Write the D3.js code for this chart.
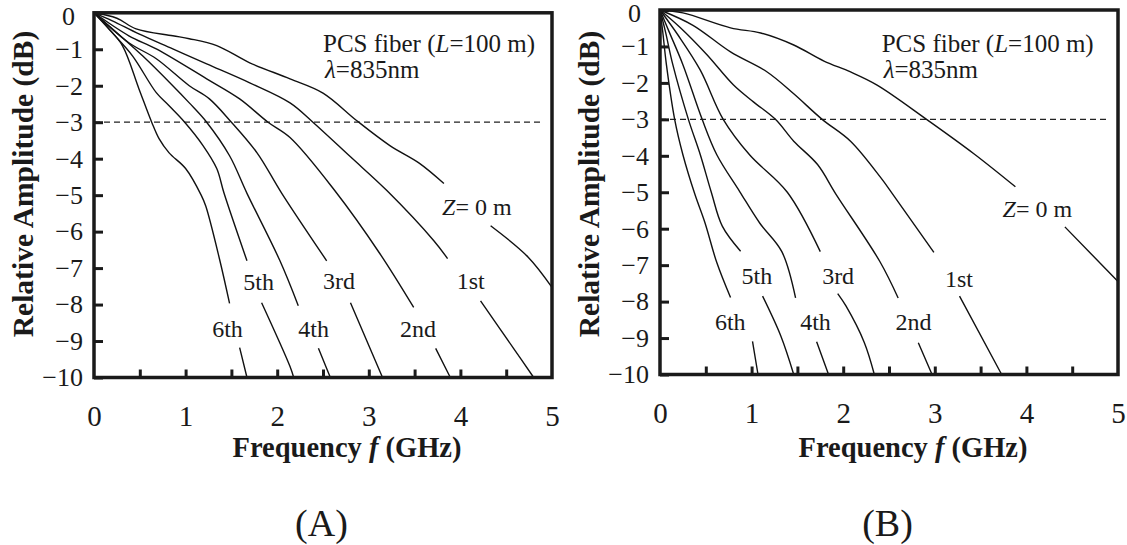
<!DOCTYPE html>
<html><head><meta charset="utf-8">
<script src="https://cdn.jsdelivr.net/npm/d3@7"></script>
<style>
body{margin:0;background:#fff}
svg text{font-family:'Liberation Serif','DejaVu Serif',serif !important;fill:#1a1a1a}
</style></head><body>
<svg id="chart" width="1127" height="545"></svg>
<script>
// ---------------- data ----------------
const xLabelTicks = [0, 1, 2, 3, 4, 5];
const xMinorTicks = [0.5, 1, 1.5, 2, 2.5, 3, 3.5, 4, 4.5];
const yTicks = [0, -1, -2, -3, -4, -5, -6, -7, -8, -9, -10];
const threshold = -3;
const curveNames = ["Z= 0 m", "1st", "2nd", "3rd", "4th", "5th", "6th"];

// Panel A (frequency GHz, relative amplitude dB); null = gap for label
const A_Z0  = [[0,0],[0.25,-0.15],[0.46,-0.44],[0.86,-0.63],[1.04,-0.71],[1.34,-0.9],[1.70,-1.37],[2.14,-1.81],[2.5,-2.2],[2.87,-2.96],[3.23,-3.64],[3.55,-4.12],[3.82,-4.68],[4.0,null],[4.33,-5.84],[4.74,-6.7],[5.0,-7.53]];
const A_1st = [[0,0],[0.2,-0.22],[0.49,-0.58],[0.86,-0.99],[1.23,-1.4],[1.70,-1.92],[2.14,-2.47],[2.39,-3.0],[2.8,-3.95],[3.2,-4.88],[3.71,-6.25],[3.86,-6.74],[4.0,null],[4.22,-7.9],[4.58,-9.2],[4.8,-10]];
const A_2nd = [[0,0],[0.38,-0.63],[0.68,-0.99],[1.23,-1.81],[1.59,-2.36],[1.90,-3.0],[2.14,-3.42],[2.63,-4.88],[3.12,-6.6],[3.49,-8.08],[3.6,null],[3.73,-9.2],[3.89,-10]];
const A_3rd = [[0,0],[0.38,-0.82],[0.68,-1.26],[1.04,-2.0],[1.26,-2.36],[1.50,-3.0],[1.78,-3.84],[2.05,-4.95],[2.54,-6.8],[2.6,null],[2.8,-7.95],[3.15,-10]];
const A_4th = [[0,0],[0.25,-0.55],[0.53,-1.18],[0.86,-2.0],[1.04,-2.47],[1.23,-3.0],[1.48,-3.92],[1.67,-4.95],[2.03,-6.8],[2.23,-8.03],[2.3,null],[2.45,-9.2],[2.58,-10]];
const A_5th = [[0,0],[0.2,-0.55],[0.42,-1.18],[0.68,-2.19],[0.82,-2.55],[0.99,-3.0],[1.19,-3.64],[1.34,-4.27],[1.42,-4.95],[1.67,-6.8],[1.75,null],[1.83,-7.95],[2.14,-9.7],[2.18,-10]];
const A_6th = [[0,0],[0.15,-0.4],[0.31,-0.9],[0.49,-2.08],[0.63,-3.0],[0.71,-3.45],[0.82,-3.84],[1.0,-4.27],[1.17,-5.0],[1.22,-5.3],[1.37,-6.75],[1.48,-7.97],[1.5,null],[1.59,-9.18],[1.67,-10]];

// Panel B
const B_Z0  = [[0,0],[0.25,-0.08],[0.77,-0.49],[1.1,-0.63],[1.46,-0.96],[1.79,-1.4],[2.08,-1.7],[2.37,-2.06],[2.91,-3.0],[3.43,-3.95],[3.88,-4.85],[4.1,null],[4.42,-5.95],[5.0,-7.45]];
const B_1st = [[0,0],[0.36,-0.42],[0.77,-1.15],[1.17,-1.7],[1.46,-2.3],[1.77,-3.0],[2.08,-3.6],[2.41,-4.6],[2.54,-5.05],[2.99,-6.65],[3.1,null],[3.27,-7.85],[3.73,-10]];
const B_2nd = [[0,0],[0.22,-0.48],[0.51,-1.22],[0.8,-2.05],[1.02,-2.52],[1.26,-3.0],[1.46,-3.6],[1.72,-4.24],[1.92,-5.05],[2.4,-6.9],[2.6,-7.9],[2.7,null],[2.82,-9.13],[2.97,-10]];
const B_3rd = [[0,0],[0.2,-0.7],[0.44,-1.65],[0.69,-3.0],[0.98,-3.98],[1.39,-5.0],[1.75,-6.63],[1.85,null],[1.94,-7.78],[2.03,-8.12],[2.23,-9.12],[2.34,-10]];
const B_4th = [[0,0],[0.1,-0.6],[0.25,-1.5],[0.46,-3.0],[0.62,-3.97],[0.87,-4.98],[1.09,-5.85],[1.33,-6.63],[1.48,-7.9],[1.6,null],[1.71,-9.1],[1.84,-10]];
const B_5th = [[0,0],[0.06,-0.6],[0.14,-1.5],[0.31,-3.0],[0.44,-3.97],[0.56,-5.0],[0.68,-5.93],[0.88,-6.62],[1.0,null],[1.12,-7.85],[1.32,-8.95],[1.46,-10]];
const B_6th = [[0,0],[0.03,-0.6],[0.07,-1.5],[0.16,-3.0],[0.25,-3.97],[0.38,-5.05],[0.49,-5.83],[0.62,-6.93],[0.77,-7.89],[0.9,null],[1.01,-9.09],[1.07,-10]];

// label anchors (frequency, dB) for curve names, same order as curveNames
const A_labelAt = [[3.80,-5.54],[3.96,-7.57],[3.34,-8.89],[2.50,-7.57],[2.23,-8.89],[1.63,-7.60],[1.29,-8.89]];
const B_labelAt = [[3.74,-5.67],[3.11,-7.60],[2.57,-8.78],[1.77,-7.52],[1.53,-8.78],[0.89,-7.52],[0.60,-8.78]];

// ---------------- drawing ----------------
const svg = d3.select("#chart");
const INK = "#1a1a1a";
const FONT = "'Liberation Serif','DejaVu Serif',serif";

function drawPanel(cfg) {
  const x = d3.scaleLinear().domain([0, 5]).range(cfg.xr);
  const y = d3.scaleLinear().domain([0, -10]).range(cfg.yr);
  const g = svg.append("g");

  g.append("line")
    .attr("x1", x(0)).attr("x2", x(4.9))
    .attr("y1", y(threshold)).attr("y2", y(threshold))
    .attr("stroke", "#222").attr("stroke-width", 1.2)
    .attr("stroke-dasharray", "6,4");

  const line = d3.line()
    .defined(d => d[1] !== null)
    .x(d => x(d[0])).y(d => y(d[1]))
    .curve(d3.curveCatmullRom.alpha(0.5));
  cfg.curves.forEach(c => {
    g.append("path").attr("d", line(c))
      .attr("fill", "none").attr("stroke", "#111").attr("stroke-width", 1.4);
  });

  const ya = g.append("g").attr("transform", `translate(${x(0)},0)`)
    .call(d3.axisLeft(y).tickValues(yTicks).tickSize(-9).tickPadding(11).tickFormat(d3.format("d")));
  ya.attr("font-family", FONT);
  ya.select(".domain").remove();
  ya.selectAll(".tick line").attr("stroke", INK).attr("stroke-width", 3);
  ya.selectAll(".tick text").attr("font-size", 26).attr("fill", INK);
  ya.selectAll(".tick").filter(d => d === 0).select("text").attr("dx", -8).attr("dy", "0.45em");

  const xa = g.append("g").attr("transform", `translate(0,${y(-10)})`)
    .call(d3.axisBottom(x).tickValues(xMinorTicks).tickSize(-8).tickFormat(""));
  xa.select(".domain").remove();
  xa.selectAll(".tick line").attr("stroke", INK).attr("stroke-width", 3);

  const xl = g.append("g").attr("transform", `translate(0,${y(-10)})`)
    .call(d3.axisBottom(x).tickValues(xLabelTicks).tickSize(0).tickFormat(d3.format("d")));
  xl.attr("font-family", FONT);
  xl.select(".domain").remove();
  xl.selectAll(".tick text").attr("y", 48).attr("dy", null)
    .attr("font-size", 29).attr("fill", INK);

  g.append("rect")
    .attr("x", x(0)).attr("y", y(0))
    .attr("width", x(5) - x(0)).attr("height", y(-10) - y(0))
    .attr("fill", "none").attr("stroke", INK).attr("stroke-width", 3.5);

  cfg.labelAt.forEach((p, i) => {
    const t = g.append("text").attr("x", x(p[0])).attr("y", y(p[1])).attr("font-size", 24);
    if (i === 0) {
      t.append("tspan").attr("font-style", "italic").text("Z");
      t.append("tspan").text("= 0 m");
    } else t.text(curveNames[i]);
  });

  const t1 = g.append("text").attr("x", x(cfg.noteF)).attr("y", y(cfg.noteV1)).attr("font-size", 25);
  t1.append("tspan").text("PCS fiber (");
  t1.append("tspan").attr("font-style", "italic").text("L");
  t1.append("tspan").text("=100 m)");
  const t2 = g.append("text").attr("x", x(cfg.noteF) + 2).attr("y", y(cfg.noteV2)).attr("font-size", 25);
  t2.append("tspan").attr("font-style", "italic").text("λ");
  t2.append("tspan").text("=835nm");

  svg.append("text")
    .attr("transform", `translate(${x(0) - 61},184) rotate(-90)`)
    .attr("text-anchor", "middle").attr("font-size", 29.5).attr("font-weight", "bold")
    .text("Relative Amplitude (dB)");

  const xt = svg.append("text").attr("x", (x(0) + x(5)) / 2 + 24).attr("y", 457)
    .attr("text-anchor", "middle").attr("font-size", 28.5).attr("font-weight", "bold");
  xt.append("tspan").text("Frequency ");
  xt.append("tspan").attr("font-style", "italic").text("f");
  xt.append("tspan").text(" (GHz)");

  svg.append("text").attr("x", (x(0) + x(5)) / 2 - 1.5).attr("y", 536)
    .attr("text-anchor", "middle").attr("font-size", 38).text(cfg.letter);
}

drawPanel({
  xr: [94, 552], yr: [12.8, 377.5],
  curves: [A_Z0, A_1st, A_2nd, A_3rd, A_4th, A_5th, A_6th],
  labelAt: A_labelAt, noteF: 2.5, noteV1: -1.07, noteV2: -1.80, letter: "(A)"
});
drawPanel({
  xr: [660, 1118], yr: [10, 374.5],
  curves: [B_Z0, B_1st, B_2nd, B_3rd, B_4th, B_5th, B_6th],
  labelAt: B_labelAt, noteF: 2.42, noteV1: -1.14, noteV2: -1.87, letter: "(B)"
});
</script>
</body></html>
